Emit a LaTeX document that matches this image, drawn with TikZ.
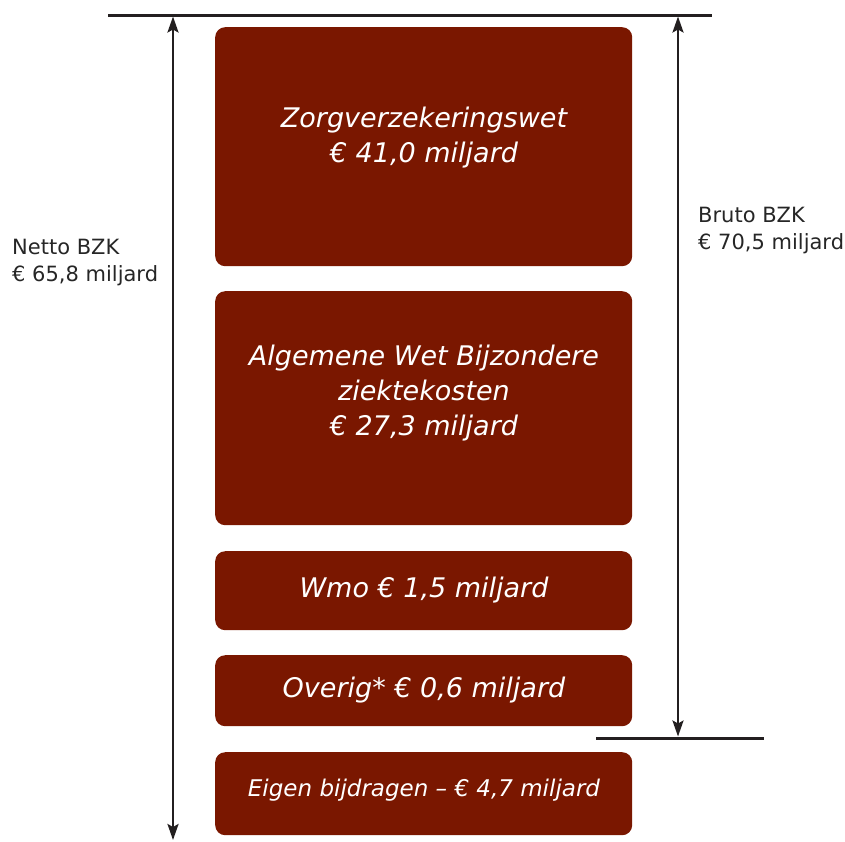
\documentclass[tikz,border=0pt]{standalone}
\usepackage{fontspec}
\setmainfont{DejaVu Sans}
\usetikzlibrary{arrows.meta}
\definecolor{boxred}{RGB}{122,23,0}
\definecolor{linegray}{RGB}{35,31,32}
\tikzset{
  x=1pt, y=-1pt,
  blockbox/.style={draw=none, fill=boxred, rounded corners=10pt, inner sep=0pt, anchor=north west},
  boxtext/.style={text=white, align=center, inner sep=0pt, font=\itshape\fontsize{27}{35}\selectfont},
  smalltext/.style={text=white, align=center, inner sep=0pt, font=\itshape\fontsize{23}{28}\selectfont},
  sidetext/.style={text=black!85, align=left, inner sep=0pt, anchor=west, font=\fontsize{21}{27}\selectfont},
  rule/.style={draw=linegray, line width=3pt},
  tipshape/.style={},
  dim/.style={draw=linegray, line width=2.4pt, {Stealth[length=16pt,width=11pt,inset=3pt]}-{Stealth[length=16pt,width=11pt,inset=3pt]}},
}
\begin{document}
\begin{tikzpicture}
\useasboundingbox (0,0) rectangle (845,841);
% boxes
\node[blockbox, minimum width=417pt, minimum height=239pt] (b1) at (215,27) {};
\node[blockbox, minimum width=417pt, minimum height=234pt] (b2) at (215,291) {};
\node[blockbox, minimum width=417pt, minimum height=79pt] (b3) at (215,551) {};
\node[blockbox, minimum width=417pt, minimum height=71pt] (b4) at (215,655) {};
\node[blockbox, minimum width=417pt, minimum height=83pt] (b5) at (215,752) {};
% texts
\node[boxtext] (t1) at (424,138) {Zorgverzekeringswet\\€ 41,0 miljard};
\node[boxtext] (t2) at (424,393) {Algemene Wet Bijzondere\\ziektekosten\\€ 27,3 miljard};
\node[boxtext] (t3) at (424,590.5) {Wmo € 1,5 miljard};
\node[boxtext] (t4) at (424,690) {Overig* € 0,6 miljard};
\node[smalltext] (t5) at (424,790) {Eigen bijdragen – € 4,7 miljard};
% side labels
\node[sidetext] (netto) at (12,263) {Netto BZK\\€ 65,8 miljard};
\node[sidetext] (bruto) at (698,231) {Bruto BZK\\€ 70,5 miljard};
% rules
\coordinate (topL) at (108,15);
\coordinate (topR) at (712,15);
\coordinate (botL) at (596,738);
\coordinate (botR) at (764,738);
\draw[rule] (topL) -- (topR);
\draw[rule] (botL) -- (botR);
% dimension arrows
\coordinate (nTop) at (173,16.5);
\coordinate (nBot) at (173,840);
\coordinate (bTop) at (678,16.5);
\coordinate (bBot) at (678,736.5);
\draw[dim] (nTop) -- (nBot);
\draw[dim] (bTop) -- (bBot);
\end{tikzpicture}
\end{document}
